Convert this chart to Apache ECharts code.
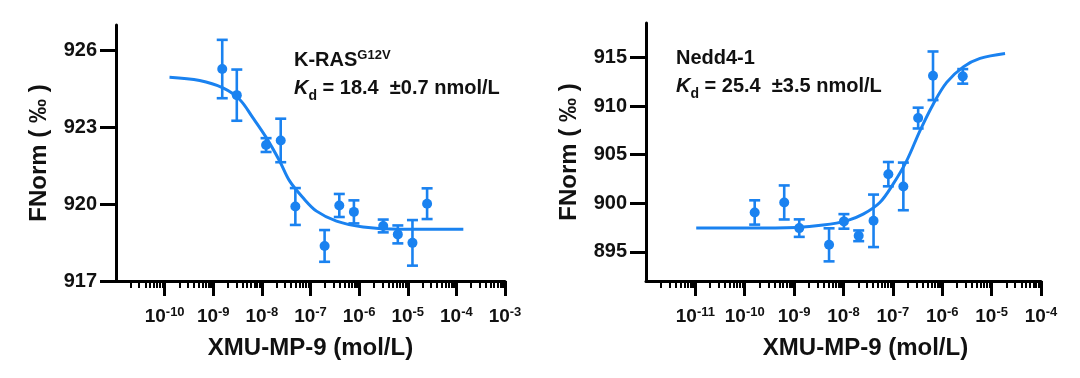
<!DOCTYPE html>
<html><head><meta charset="utf-8">
<script src="https://cdn.jsdelivr.net/npm/echarts@6/dist/echarts.min.js"></script>
<style>html,body{margin:0;padding:0;background:#fff}#c{width:1080px;height:378px}</style>
</head><body><div id="c"></div>
<script>
// ---------- data ----------
// K-RAS G12V panel
const krasConc  = [1.53e-9, 3.05e-9, 1.22e-8, 2.44e-8, 4.88e-8, 1.95e-7, 3.91e-7, 7.81e-7, 3.13e-6, 6.25e-6, 1.25e-5, 2.5e-5];
const krasFNorm = [925.28, 924.26, 922.31, 922.49, 919.91, 918.37, 919.95, 919.70, 919.15, 918.82, 918.49, 920.02];
const krasErr   = [1.14, 1.00, 0.27, 0.85, 0.72, 0.62, 0.45, 0.45, 0.25, 0.35, 0.89, 0.60];
const krasFitConc = [1.26e-10, 5.25e-10, 1.58e-9, 3.49e-9, 6.56e-9, 1.24e-8, 2.33e-8, 3.74e-8, 7.03e-8, 1.33e-7, 3.43e-7, 1.21e-6, 6.89e-6, 1.39e-4];
const krasFitY    = [924.96, 924.83, 924.54, 924.09, 923.37, 922.59, 921.68, 920.90, 920.25, 919.73, 919.34, 919.11, 919.02, 919.02];
// Nedd4-1 panel
const neddConc  = [1.59e-10, 6.3e-10, 1.27e-9, 5.1e-9, 1.02e-8, 2.03e-8, 4.06e-8, 8.1e-8, 1.63e-7, 3.25e-7, 6.5e-7, 2.6e-6];
const neddFNorm = [899.05, 900.08, 897.44, 895.72, 898.13, 896.65, 898.19, 902.99, 901.73, 908.76, 913.11, 913.05];
const neddErr   = [1.25, 1.75, 0.90, 1.70, 0.75, 0.55, 2.70, 1.25, 2.45, 1.07, 2.50, 0.75];
const neddFitConc = [1.04e-11, 1.08e-10, 1.11e-9, 3.85e-9, 1.15e-8, 2.50e-8, 5.44e-8, 1.01e-7, 1.90e-7, 3.53e-7, 6.56e-7, 1.23e-6, 2.67e-6, 5.82e-6, 1.87e-5];
const neddFitY    = [897.44, 897.44, 897.51, 897.75, 898.19, 898.88, 900.08, 901.97, 904.36, 907.45, 910.19, 912.43, 914.03, 914.90, 915.41];

// tick labels
const leftXTicks  = [1e-10, 1e-9, 1e-8, 1e-7, 1e-6, 1e-5, 1e-4, 1e-3];
const rightXTicks = [1e-11, 1e-10, 1e-9, 1e-8, 1e-7, 1e-6, 1e-5, 1e-4];
const leftYTicks  = [917, 920, 923, 926];
const rightYTicks = [895, 900, 905, 910, 915];

const xTitle = 'XMU-MP-9 (mol/L)';
const yTitle = 'FNorm ( ‰ )';

// ---------- styling ----------
const BLUE = '#1a82f0';
const INK = '#111';
const FONT = '"Liberation Sans", Arial, Helvetica, sans-serif';

function minorTicks(loExp, hiExp) {
  const out = [];
  for (let e = loExp; e < hiExp; e++) for (let k = 2; k <= 9; k++) out.push(+(k + 'e' + e));
  return out;
}
function pairs(a, b) { return a.map((v, i) => [v, b[i]]); }
function triples(a, b, c) { return a.map((v, i) => [v, b[i], c[i]]); }

const hidden = { show: false };
// axis carrying the line, the major ticks and the title
function lineX(gridIndex, min, max, ticks, namePad) {
  return {
    type: 'log', logBase: 10, gridIndex, min, max, position: 'bottom',
    axisLine: { show: true, onZero: false, lineStyle: { color: '#000', width: 3 } },
    axisTick: { show: true, customValues: ticks, length: 15, lineStyle: { color: '#000', width: 3 } },
    axisLabel: hidden, minorTick: hidden, splitLine: hidden,
    name: xTitle, nameLocation: 'middle', nameGap: 54,
    nameTextStyle: { fontSize: 24, fontWeight: 'bold', fontFamily: FONT, color: INK, lineHeight: 26, padding: namePad }
  };
}
// axis carrying the minor ticks
function minorX(gridIndex, min, max, ticks) {
  return {
    type: 'log', logBase: 10, gridIndex, min, max, position: 'bottom',
    axisLine: { show: false, onZero: false },
    axisTick: { show: true, customValues: ticks, length: 7, lineStyle: { color: '#000', width: 2 } },
    axisLabel: hidden, splitLine: hidden, minorTick: hidden
  };
}
// axis carrying the decade labels
function labelX(gridIndex, min, max, ticks) {
  return {
    type: 'log', logBase: 10, gridIndex, min, max, position: 'bottom',
    axisLine: { show: false, onZero: false }, axisTick: hidden, splitLine: hidden, minorTick: hidden,
    axisLabel: {
      show: true, customValues: ticks, margin: 25,
      formatter: v => '{b|10}{s|' + Math.round(Math.log10(v)) + '}',
      rich: {
        b: { fontSize: 19, fontWeight: 'bold', fontFamily: FONT, color: INK, lineHeight: 22, verticalAlign: 'middle' },
        s: { fontSize: 13, fontWeight: 'bold', fontFamily: FONT, color: INK, lineHeight: 14, verticalAlign: 'top' }
      }
    }
  };
}
function yAx(gridIndex, min, max, ticks) {
  return {
    type: 'value', gridIndex, min, max, position: 'left',
    axisLine: { show: true, onZero: false, lineStyle: { color: '#000', width: 3 } },
    axisTick: { show: true, customValues: ticks, length: 16, lineStyle: { color: '#000', width: 3 } },
    axisLabel: { show: true, customValues: ticks, margin: 19, fontSize: 20, fontWeight: 'bold', fontFamily: FONT, color: INK },
    splitLine: hidden,
    name: yTitle, nameLocation: 'middle', nameGap: 64, nameRotate: 90,
    nameTextStyle: { fontSize: 24, fontWeight: 'bold', fontFamily: FONT, color: INK, lineHeight: 26 }
  };
}

function errRender(params, api) {
  const x = api.value(0), y = api.value(1), e = api.value(2);
  const t = api.coord([x, y + e]);
  const b = api.coord([x, y - e]);
  const hw = 5.5;
  const st = { stroke: BLUE, lineWidth: 2.6 };
  return {
    type: 'group',
    children: [
      { type: 'line', shape: { x1: t[0], y1: t[1], x2: b[0], y2: b[1] }, style: st },
      { type: 'line', shape: { x1: t[0] - hw, y1: t[1], x2: t[0] + hw, y2: t[1] }, style: st },
      { type: 'line', shape: { x1: b[0] - hw, y1: b[1], x2: b[0] + hw, y2: b[1] }, style: st }
    ]
  };
}

function panelSeries(xi, yi, conc, fnorm, err, fitX, fitY) {
  return [
    { type: 'line', xAxisIndex: xi, yAxisIndex: yi, data: pairs(fitX, fitY), smooth: 0.35,
      showSymbol: false, symbol: 'none', lineStyle: { color: BLUE, width: 3 }, z: 2, silent: true },
    { type: 'custom', xAxisIndex: xi, yAxisIndex: yi, data: triples(conc, fnorm, err),
      encode: { x: 0, y: 1 }, renderItem: errRender, z: 3, silent: true },
    { type: 'scatter', xAxisIndex: xi, yAxisIndex: yi, data: pairs(conc, fnorm),
      symbol: 'circle', symbolSize: 10, itemStyle: { color: BLUE, opacity: 1 }, z: 4, silent: true }
  ];
}

const mainStyle = { fontSize: 20, fontWeight: 'bold', fontFamily: FONT, color: INK };
function annot(left, top1, top2, head, headSup, kdText) {
  const out = [];
  out.push({
    left, top: top1, padding: 0,
    text: headSup ? '{m|' + head + '}{s|' + headSup + '}' : '{m|' + head + '}',
    textStyle: { rich: {
      m: Object.assign({ lineHeight: 22, verticalAlign: 'middle' }, mainStyle),
      s: { fontSize: 13, fontWeight: 'bold', fontFamily: FONT, color: INK, lineHeight: 14, verticalAlign: 'top' }
    } }
  });
  out.push({
    left, top: top2, padding: 0,
    text: '{k|K}{d|d}{m|' + kdText + '}',
    textStyle: { rich: {
      k: Object.assign({ lineHeight: 30, verticalAlign: 'middle', fontStyle: 'italic' }, mainStyle),
      d: { fontSize: 14, fontWeight: 'bold', fontFamily: FONT, color: INK, lineHeight: 10, verticalAlign: 'bottom' },
      m: Object.assign({ lineHeight: 30, verticalAlign: 'middle' }, mainStyle)
    } }
  });
  return out;
}

const option = {
  backgroundColor: '#fff',
  animation: false,
  title: [].concat(
    annot(294, 49, 73, 'K-RAS', 'G12V', ' = 18.4  \u00b10.7 nmol/L'),
    annot(676, 47, 71, 'Nedd4-1', null, ' = 25.4  \u00b13.5 nmol/L')
  ),
  grid: [
    { left: 116, right: 575, top: 25, bottom: 97, outerBoundsMode: 'none', containLabel: false },
    { left: 646, right: 39, top: 23, bottom: 97, outerBoundsMode: 'none', containLabel: false }
  ],
  xAxis: [
    lineX(0, 1e-11, 1e-3, leftXTicks, [0, 0, 0, 0]),       // 0
    minorX(0, 1e-11, 1e-3, minorTicks(-11, -3)),            // 1
    labelX(0, 1e-11, 1e-3, leftXTicks),                     // 2
    lineX(1, 1e-12, 1e-4, rightXTicks, [0, 0, 0, 44]),      // 3
    minorX(1, 1e-12, 1e-4, minorTicks(-12, -4)),            // 4
    labelX(1, 1e-12, 1e-4, rightXTicks)                     // 5
  ],
  yAxis: [
    yAx(0, 917, 927, leftYTicks),
    yAx(1, 892, 918.54, rightYTicks)
  ],
  series: [].concat(
    panelSeries(0, 0, krasConc, krasFNorm, krasErr, krasFitConc, krasFitY),
    panelSeries(3, 1, neddConc, neddFNorm, neddErr, neddFitConc, neddFitY)
  )
};

const chart = echarts.init(document.getElementById('c'), null, { renderer: 'canvas' });
chart.setOption(option);
</script>
</body></html>
